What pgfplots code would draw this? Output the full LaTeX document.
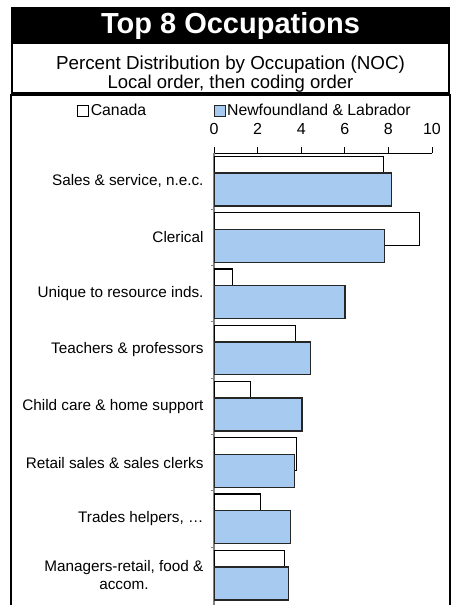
\documentclass[border=0pt]{standalone}
\usepackage{fontspec}
\setmainfont{Liberation Sans}
\usepackage{pgfplots}
\pgfplotsset{compat=1.18}
\definecolor{nlblue}{RGB}{166,202,240}
\newcommand{\lab}{\fontsize{15.3}{18.5}\selectfont}
\begin{document}
\begin{tikzpicture}[x=1pt,y=1pt]
\useasboundingbox (0,0) rectangle (452,605);
% title band
\fill[black] (11,598) rectangle (450,562);
\node[text=white, font=\bfseries\fontsize{29}{34}\selectfont] at (230.5,579) {Top 8 Occupations};
% subtitle box
\draw[line width=1.5pt] (12,562) rectangle (449,512);
\node[font=\fontsize{18.8}{22}\selectfont] at (230.5,540) {Percent Distribution by Occupation (NOC)};
\node[font=\fontsize{18.5}{22}\selectfont] at (230.5,521) {Local order, then coding order};
% plot box
\draw[line width=1.5pt] (11,-5) -- (11,510) -- (450,510) -- (450,-5);
\begin{axis}[
  at={(214pt,0pt)}, anchor=south west,
  scale only axis, width=218pt, height=452pt,
  xbar, bar width=0.586,
  xmin=0, xmax=10,
  ymin=-0.5, ymax=7.53, y dir=reverse,
  axis x line*=top, axis y line*=left,
  x axis line style={black, line width=0.8pt},
  y axis line style={gray, line width=1.2pt},
  xtick={0,2,4,6,8,10},
  xtick pos=upper, xticklabel pos=upper,
  tick align=outside,
  major tick length=6pt,
  x tick style={black, line width=0.8pt},
  /pgf/number format/assume math mode=true,
  xticklabel style={font=\fontsize{16}{19}\selectfont, yshift=9pt},
  ytick={0,...,7},
  y tick style={draw=none},
  yticklabels={{Sales \& service, n.e.c.},{Clerical},{Unique to resource inds.},{Teachers \& professors},{Child care \& home support},{Retail sales \& sales clerks},{Trades helpers, \dots},{Managers-retail, food \&\\accom.}},
  yticklabel style={font=\lab, align=center, xshift=-1pt},
  extra y ticks={0.5,1.5,2.5,3.5,4.5,5.5,6.5},
  extra y tick labels={},
  extra y tick style={y tick style={draw=gray, line width=1pt}, major tick length=3pt},
  legend columns=2,
  legend style={at={(axis description cs:-0.628,1.094)}, anchor=west, draw=none, fill=none, inner sep=0pt,
    font=\fontsize{15.8}{18}\selectfont,
    nodes={inner sep=1.5pt},
    /tikz/every even column/.append style={column sep=66pt}},
  legend image code/.code={\draw[#1,line width=1pt] (0pt,-5.5pt) rectangle (11pt,5.5pt);},
]
\addplot[draw=black, fill=white, line width=1.3pt, bar shift=-0.148] coordinates {
(7.79,0) (9.42,1) (0.84,2) (3.74,3) (1.69,4) (3.78,5) (2.14,6) (3.24,7)};
\addlegendentry{Canada}
\addplot[draw=black!85, fill=nlblue, line width=1.3pt, bar shift=0.148] coordinates {
(8.15,0) (7.82,1) (6.01,2) (4.43,3) (4.03,4) (3.68,5) (3.51,6) (3.42,7)};
\addlegendentry{Newfoundland \& Labrador}
\end{axis}
\end{tikzpicture}
\end{document}
